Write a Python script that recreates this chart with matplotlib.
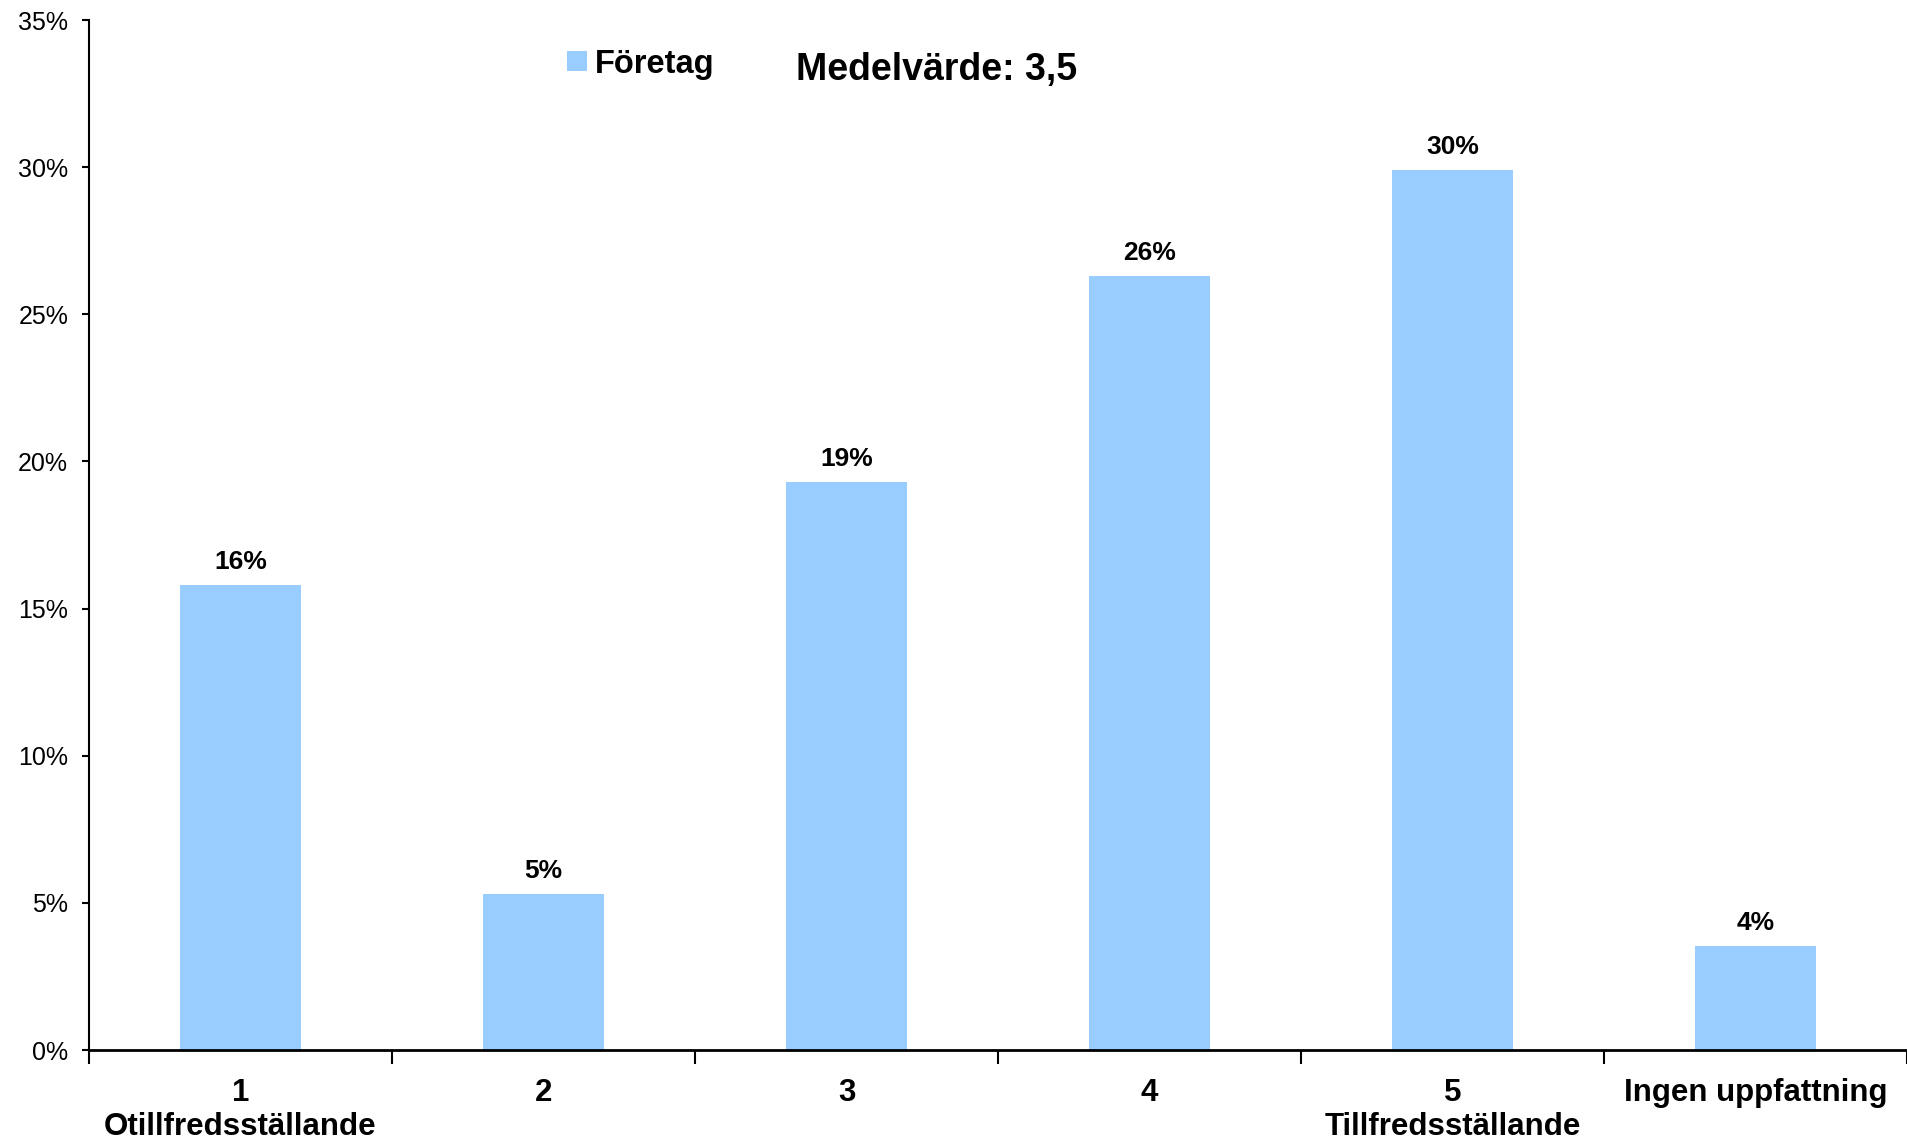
import numpy as np
import matplotlib.pyplot as plt

plt.rcParams['font.family'] = ['Liberation Sans', 'DejaVu Sans']

# Data
categories = ["1\nOtillfredsställande", "2", "3", "4", "5\nTillfredsställande", "Ingen uppfattning"]
values = [15.8, 5.3, 19.3, 26.3, 29.9, 3.52]
series_name = "Företag"
mean_text = "Medelvärde: 3,5"
y_ticks = [0, 5, 10, 15, 20, 25, 30, 35]

bar_color = '#99CCFF'

fig = plt.figure(figsize=(19.07, 11.45), dpi=100)
ax = fig.add_axes([89 / 1907, 95 / 1145, 1 - 89 / 1907, 1030 / 1145])

x = np.arange(len(categories))
bars = ax.bar(x, values, width=0.4, color=bar_color, label=series_name, zorder=2)

# Percent labels above the bars
ax.bar_label(bars, labels=[f"{v:.0f}%" for v in values], padding=8,
             fontsize=19, fontweight='bold')

ax.set_xlim(-0.5, len(categories) - 0.5)
ax.set_ylim(0, 35)

# y axis
ax.set_yticks(y_ticks)
ax.set_yticklabels([f"{t}%" for t in y_ticks])
ax.tick_params(axis='y', direction='out', length=5, width=1.5, pad=10, labelsize=18)

# x axis: labels centered, ticks on category borders
ax.set_xticks(x)
ax.set_xticklabels(categories, fontsize=22.5, fontweight='bold', linespacing=1.2)
ax.tick_params(axis='x', which='major', length=0, pad=20)
ax.set_xticks(np.arange(len(categories) + 1) - 0.5, minor=True)
ax.tick_params(axis='x', which='minor', direction='out', length=10, width=1.5)

for side in ['top', 'right']:
    ax.spines[side].set_visible(False)
ax.spines['left'].set_linewidth(1.5)
ax.spines['bottom'].set_linewidth(2)

# legend and mean value
ax.legend(loc='center left', bbox_to_anchor=(567 / 1907, 1 - 64 / 1145),
          bbox_transform=fig.transFigure, frameon=False,
          prop={'weight': 'bold', 'size': 23.5}, handlelength=0.6, handleheight=0.6,
          handletextpad=0.25, borderpad=0, borderaxespad=0)
fig.text(796 / 1907, 1 - 80 / 1145, mean_text, fontsize=27, fontweight='bold',
         ha='left', va='baseline')

fig.savefig('out.png', dpi=100)
